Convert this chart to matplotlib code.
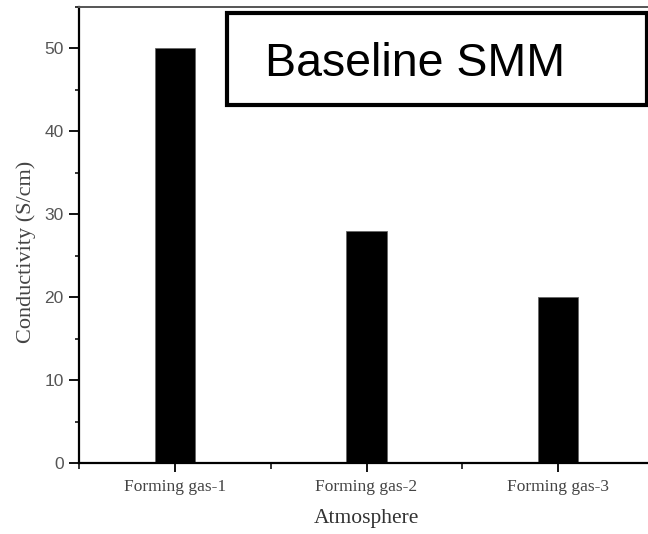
import matplotlib.pyplot as plt
from matplotlib.patches import Rectangle
from matplotlib.ticker import MultipleLocator, FixedLocator

atmospheres = ["Forming gas-1", "Forming gas-2", "Forming gas-3"]
conductivity = [50, 28, 20]

W, H = 648, 534
fig = plt.figure(figsize=(W / 100, H / 100), dpi=100)
ax = fig.add_axes([79 / W, 1 - 463 / H, (654 - 79) / W, (463 - 7) / H])

x = list(range(1, len(atmospheres) + 1))
ax.bar(x, conductivity, width=0.21, color="black", edgecolor="#666666", linewidth=0.6)

ax.set_xlim(0.5, 3.5)
ax.set_ylim(0, 55)

ax.set_xticks(x)
ax.set_xticklabels(atmospheres, family="Liberation Serif", fontsize=12.5, color="#444444")
ax.xaxis.set_minor_locator(FixedLocator([0.5, 1.5, 2.5]))
ax.yaxis.set_major_locator(MultipleLocator(10))
ax.yaxis.set_minor_locator(MultipleLocator(5))
for lab in ax.get_yticklabels():
    lab.set_family("Liberation Sans")
    lab.set_fontsize(12.5)
    lab.set_color("#555555")

ax.tick_params(axis="y", which="major", direction="out", length=7, width=1.3, pad=4)
ax.tick_params(axis="y", which="minor", direction="out", length=3, width=1.1)
ax.tick_params(axis="x", which="major", direction="out", length=6.5, width=1.3, pad=5)
ax.tick_params(axis="x", which="minor", direction="out", length=4, width=1.1)

for side in ["left", "bottom"]:
    ax.spines[side].set_linewidth(1.6)
ax.spines["top"].set_linewidth(1.4)
ax.spines["top"].set_color("#555555")

ax.set_xlabel("Atmosphere", family="Liberation Serif", fontsize=15.5, color="#333333", labelpad=10)
ax.set_ylabel("Conductivity (S/cm)", family="Liberation Serif", fontsize=16, color="#444444")
ax.yaxis.set_label_coords(-0.075, 0.463)

# framed caption in the upper right
fig.add_artist(Rectangle((227 / W, 1 - 105 / H), 420 / W, 92 / H, transform=fig.transFigure,
                         fill=False, edgecolor="black", linewidth=3))
fig.text(265 / W, 1 - 76 / H, "Baseline SMM", family="Liberation Sans", fontsize=33.5,
         va="baseline", ha="left", color="black")

fig.savefig("out.png", dpi=100)
